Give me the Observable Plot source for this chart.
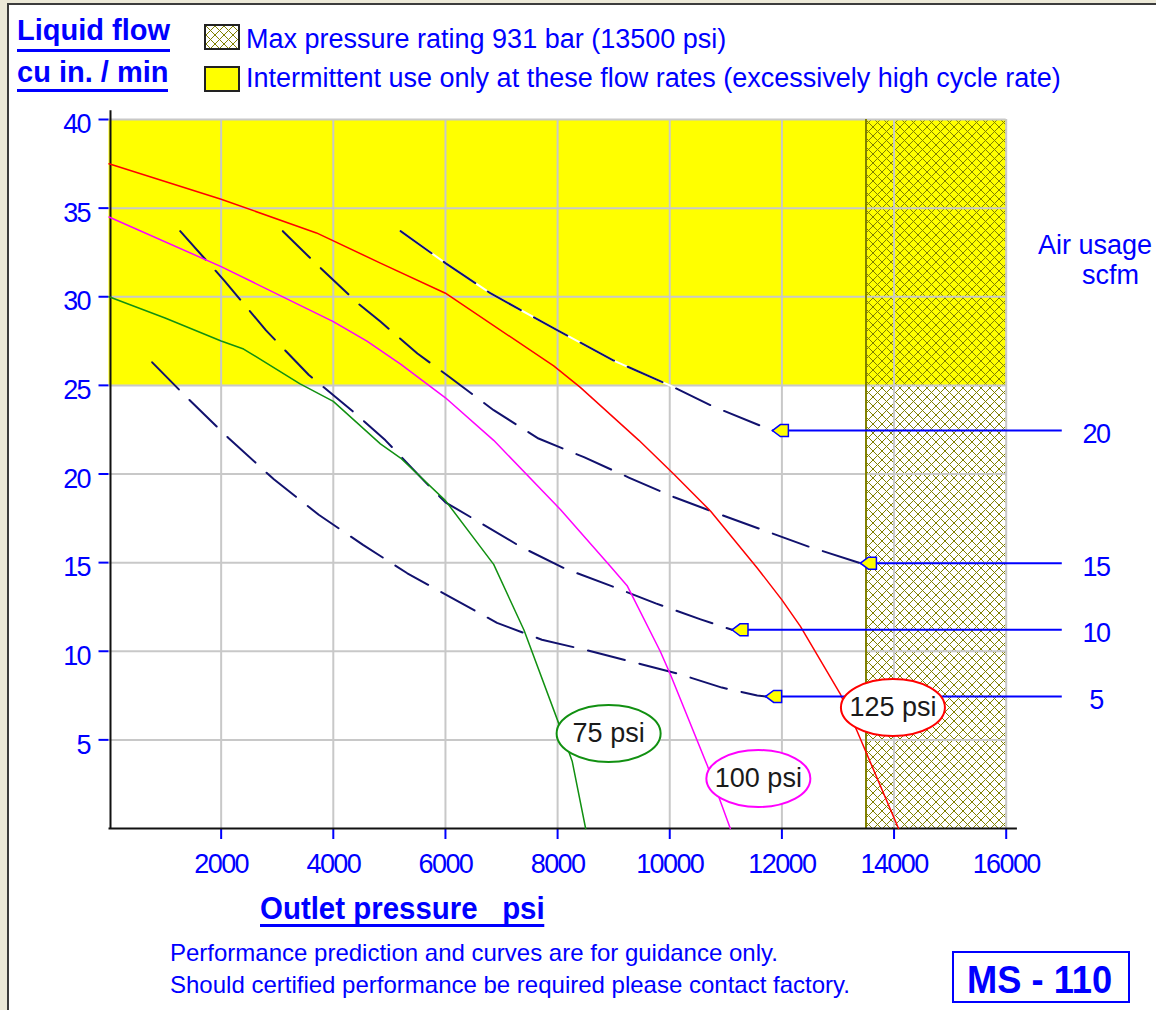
<!DOCTYPE html>
<html>
<head>
<meta charset="utf-8">
<script src="https://cdn.jsdelivr.net/npm/d3@7"></script>
<script src="https://cdn.jsdelivr.net/npm/@observablehq/plot@0.6"></script>
<style>
html, body { margin: 0; padding: 0; }
body { width: 1156px; height: 1010px; background: #ECE9D8; position: relative; overflow: hidden;
  font-family: "Liberation Sans", Arial, sans-serif; color: #0000ff; }
#frame { position: absolute; left: 7px; top: 3px; width: 1149px; height: 1007px; background: #fff;
  border-left: 2px solid #3c3c3c; border-top: 2px solid #3c3c3c; box-sizing: border-box; }
.t { position: absolute; white-space: pre; line-height: 1; }
.ttl { font-weight: bold; font-size: 29px; border-bottom: 3px solid #0000ff; }
.leg { font-size: 27px; }
#chart { position: absolute; left: 0; top: 100px; }
.box { position: absolute; box-sizing: border-box; border: 2px solid #222; }
</style>
</head>
<body>
<div id="frame"></div>
<div class="t ttl" style="left:17px; top:16px; padding-bottom:4px;">Liquid flow</div>
<div class="t ttl" style="left:17px; top:58px; padding-bottom:2px;">cu in. / min</div>
<div class="box" style="left:204px; top:24px; width:36px; height:26px; background:#fff;">
  <svg width="32" height="22" style="display:block"><defs><pattern id="hatchLegend" patternUnits="userSpaceOnUse" width="9" height="9"><path d="M0,0L9,9M9,0L0,9" stroke="#808000" stroke-width="1" fill="none" shape-rendering="crispEdges"/></pattern></defs><rect width="32" height="22" fill="url(#hatchLegend)"/></svg>
</div>
<div class="box" style="left:204px; top:66px; width:36px; height:26px; background:#ffff00;"></div>
<div class="t leg" style="left:246px; top:25.5px;">Max pressure rating 931 bar (13500 psi)</div>
<div class="t leg" style="left:246px; top:65px;">Intermittent use only at these flow rates (excessively high cycle rate)</div>
<div class="t leg" style="left:1038px; top:232px;">Air usage</div>
<div class="t leg" style="left:1082px; top:262px;">scfm</div>
<div id="chart"></div>
<div class="t" style="left:260px; top:892px; font-weight:bold; font-size:32px; transform:scaleX(0.92); transform-origin:left top; border-bottom:3px solid #0000ff;">Outlet pressure   psi</div>
<div class="t" style="left:170px; top:941px; font-size:24px;">Performance prediction and curves are for guidance only.</div>
<div class="t" style="left:170px; top:973px; font-size:24px;">Should certified performance be required please contact factory.</div>
<div class="box" style="left:952px; top:951px; width:178px; height:52px; border-color:#0000ff;"></div>
<div class="t" style="left:967px; top:960px; font-weight:bold; font-size:39px; transform:scaleX(0.93); transform-origin:left top;">MS - 110</div>
<script>
// ---------- data ----------
const pressureTicks = [2000, 4000, 6000, 8000, 10000, 12000, 14000, 16000];
const flowTicks = [5, 10, 15, 20, 25, 30, 35, 40];
const pressureDomain = [0, 16000];
const flowDomain = [0, 40];
const maxPressure = 13500;          // hatched zone start
const intermittentFlow = 25;        // yellow zone start

// solid curves: liquid flow vs outlet pressure, per air inlet pressure
const psi75Pressure = [0, 1000, 2000, 2400, 3400, 4000, 4840, 5200, 6000, 6860, 7400, 8000, 8260, 8500];
const psi75Flow     = [30.0, 28.8, 27.5, 27.05, 25.1, 24.1, 21.7, 20.9, 18.5, 14.9, 11.2, 6.1, 3.8, 0];
const psi100Pressure = [0, 2000, 4000, 4600, 5200, 6000, 6860, 8050, 8940, 9240, 9830, 10010, 10670, 11080];
const psi100Flow     = [34.5, 31.7, 28.6, 27.5, 26.2, 24.3, 21.9, 18.0, 14.8, 13.7, 10.0, 8.7, 3.55, 0];
const psi125Pressure = [0, 2000, 3700, 4840, 6000, 7930, 8400, 9450, 10070, 10730, 11560, 12000, 12330, 13040, 13340, 14080];
const psi125Flow     = [37.5, 35.5, 33.6, 31.9, 30.2, 26.1, 24.9, 21.9, 20.0, 17.9, 14.7, 12.9, 11.4, 7.6, 5.5, 0];

// dashed curves: constant air usage (scfm)
const air20Pressure = [5200, 6000, 6800, 8000, 9000, 10000, 10780, 11830];
const air20Flow     = [33.7, 31.9, 30.2, 28.1, 26.4, 25.0, 23.8, 22.45];
const air15Pressure = [3100, 3680, 4450, 4840, 5500, 6060, 6860, 7660, 8470, 9270, 10070, 10870, 11650, 12480, 13400];
const air15Flow     = [33.7, 31.9, 29.6, 28.6, 26.8, 25.5, 23.6, 22.0, 20.95, 19.8, 18.7, 17.75, 16.85, 15.9, 14.97];
const air10Pressure = [1270, 2060, 2800, 3560, 4360, 4930, 5700, 6000, 6540, 7340, 8140, 8940, 9750, 10550, 11110];
const air10Flow     = [33.7, 30.9, 28.1, 25.6, 23.5, 21.9, 19.35, 18.4, 17.4, 15.9, 14.65, 13.7, 12.7, 11.8, 11.21];
const air5Pressure = [770, 1330, 2140, 2940, 3740, 4530, 5320, 6120, 6920, 7720, 8530, 9330, 10130, 10930, 11560, 11710];
const air5Flow     = [26.3, 24.5, 22.0, 19.7, 17.7, 16.0, 14.4, 13.0, 11.6, 10.65, 10.05, 9.4, 8.75, 7.95, 7.5, 7.45];

// air usage call-outs
const airUsage = ["20", "15", "10", "5"];
const airTipPressure = [11830, 13400, 11110, 11710];
const airTipFlow = [22.45, 14.97, 11.21, 7.45];
const airLineEnd = 17000;
const airLabelPressure = 17600;

// curve labels
const curveLabels = ["75 psi", "100 psi", "125 psi"];
const curveLabelPressure = [8910, 11580, 13980];
const curveLabelFlow = [5.36, 2.82, 6.83];
const curveLabelColor = ["#119011", "#ff00ff", "#ff0000"];

// ---------- build ----------
const rows = (xs, ys) => xs.map((x, i) => ({x, y: ys[i]}));
const font = "'Liberation Sans', Arial, sans-serif";
const blue = "#0000ff";
const navy = "#11116e";
const dash = "38,15";

const ellipse = {draw(ctx) {
  const rx = 52, ry = 28.5, k = 0.5523;
  ctx.moveTo(rx, 0);
  ctx.bezierCurveTo(rx, ry * k, rx * k, ry, 0, ry);
  ctx.bezierCurveTo(-rx * k, ry, -rx, ry * k, -rx, 0);
  ctx.bezierCurveTo(-rx, -ry * k, -rx * k, -ry, 0, -ry);
  ctx.bezierCurveTo(rx * k, -ry, rx, -ry * k, rx, 0);
  ctx.closePath();
}};
const arrowHead = {draw(ctx) {
  ctx.moveTo(0, 0);
  ctx.lineTo(8, -6);
  ctx.lineTo(16, -6);
  ctx.lineTo(16, 6);
  ctx.lineTo(8, 6);
  ctx.closePath();
}};

const callIdx = d3.range(airUsage.length);
const labIdx = d3.range(curveLabels.length);

const chart = Plot.plot({
  width: 1156,
  height: 790,
  marginLeft: 108.5,
  marginRight: 150.3,
  marginTop: 19,
  marginBottom: 62,
  style: {background: "transparent", overflow: "visible", fontFamily: font},
  x: {domain: pressureDomain, label: null},
  y: {domain: flowDomain, label: null},
  color: {type: "identity"},
  marks: [
    Plot.rect([intermittentFlow], {x1: pressureDomain[0], x2: pressureDomain[1], y1: d => d, y2: flowDomain[1], fill: "#ffff00"}),
    Plot.rect([maxPressure], {x1: d => d, x2: pressureDomain[1], y1: flowDomain[0], y2: flowDomain[1], fill: "url(#hatch)"}),
    Plot.gridX({ticks: pressureTicks, stroke: "#c8c8c8", strokeOpacity: 1, strokeWidth: 2}),
    Plot.gridY({ticks: flowTicks, stroke: "#c8c8c8", strokeOpacity: 1, strokeWidth: 2}),
    Plot.ruleX([maxPressure], {y1: flowDomain[0], y2: flowDomain[1], stroke: "#808000", strokeWidth: 2}),
    // axes
    Plot.axisX({ticks: pressureTicks, tickSize: 11, tickPadding: 14, tickFormat: d => String(d), color: blue, strokeWidth: 2, fontSize: 27, fontFamily: font, label: null}),
    Plot.axisY({ticks: flowTicks, tickSize: 10, fill: "none", color: blue, strokeWidth: 2, label: null}),
    Plot.axisY({ticks: flowTicks, tickSize: 0, tickPadding: 19, dy: 5, tickFormat: d => String(d), color: blue, fontSize: 27, fontFamily: font, label: null}),
    Plot.ruleX([0], {y1: 0, y2: 40.5, stroke: "#111", strokeWidth: 2, dx: 1.5}),
    Plot.ruleY([0], {x1: 0, x2: 16200, stroke: "#111", strokeWidth: 2}),
    // dashed air usage curves
    Plot.line(rows(air20Pressure, air20Flow), {x: "x", y: "y", stroke: "#ffffff", strokeWidth: 2}),
    Plot.line(rows(air20Pressure, air20Flow), {x: "x", y: "y", stroke: navy, strokeWidth: 2, strokeDasharray: dash}),
    Plot.line(rows(air15Pressure, air15Flow), {x: "x", y: "y", stroke: navy, strokeWidth: 2, strokeDasharray: dash}),
    Plot.line(rows(air10Pressure, air10Flow), {x: "x", y: "y", stroke: navy, strokeWidth: 2, strokeDasharray: dash}),
    Plot.line(rows(air5Pressure, air5Flow), {x: "x", y: "y", stroke: navy, strokeWidth: 2, strokeDasharray: dash}),
    // solid pressure curves
    Plot.line(rows(psi75Pressure, psi75Flow), {x: "x", y: "y", stroke: curveLabelColor[0], strokeWidth: 1.5}),
    Plot.line(rows(psi100Pressure, psi100Flow), {x: "x", y: "y", stroke: curveLabelColor[1], strokeWidth: 1.5}),
    Plot.line(rows(psi125Pressure, psi125Flow), {x: "x", y: "y", stroke: curveLabelColor[2], strokeWidth: 1.5}),
    // call-out lines and arrowheads
    Plot.ruleY(callIdx, {y: i => airTipFlow[i], x1: i => airTipPressure[i], x2: airLineEnd, stroke: blue, strokeWidth: 2}),
    Plot.dot(callIdx, {x: i => airTipPressure[i], y: i => airTipFlow[i], symbol: arrowHead, fill: "#ffff00", stroke: blue, strokeWidth: 1.5}),
    Plot.text(callIdx, {x: airLabelPressure, y: i => airTipFlow[i], text: i => airUsage[i], dy: 4, fill: blue, fontSize: 27, fontFamily: font}),
    // curve labels
    Plot.dot(labIdx, {x: i => curveLabelPressure[i], y: i => curveLabelFlow[i], symbol: ellipse, fill: "#ffffff", stroke: i => curveLabelColor[i], strokeWidth: 2}),
    Plot.text(labIdx, {x: i => curveLabelPressure[i], y: i => curveLabelFlow[i], text: i => curveLabels[i], fill: "#1a1a1a", fontSize: 27})
  ]
});

const defs = d3.select(chart).insert("defs", ":first-child");
const pat = defs.append("pattern").attr("id", "hatch").attr("patternUnits", "userSpaceOnUse")
  .attr("width", 9).attr("height", 9);
pat.append("path").attr("d", "M0,0L9,9M9,0L0,9")
  .attr("stroke", "#808000").attr("stroke-width", 1).attr("fill", "none")
  .attr("shape-rendering", "crispEdges");

// narrower numeric labels, like the reference's condensed digits
d3.select(chart).selectAll("text")
  .filter(function() { return /^\d+$/.test(this.textContent.trim()); })
  .style("letter-spacing", "-1.6px");

document.getElementById("chart").append(chart);
</script>
</body>
</html>
